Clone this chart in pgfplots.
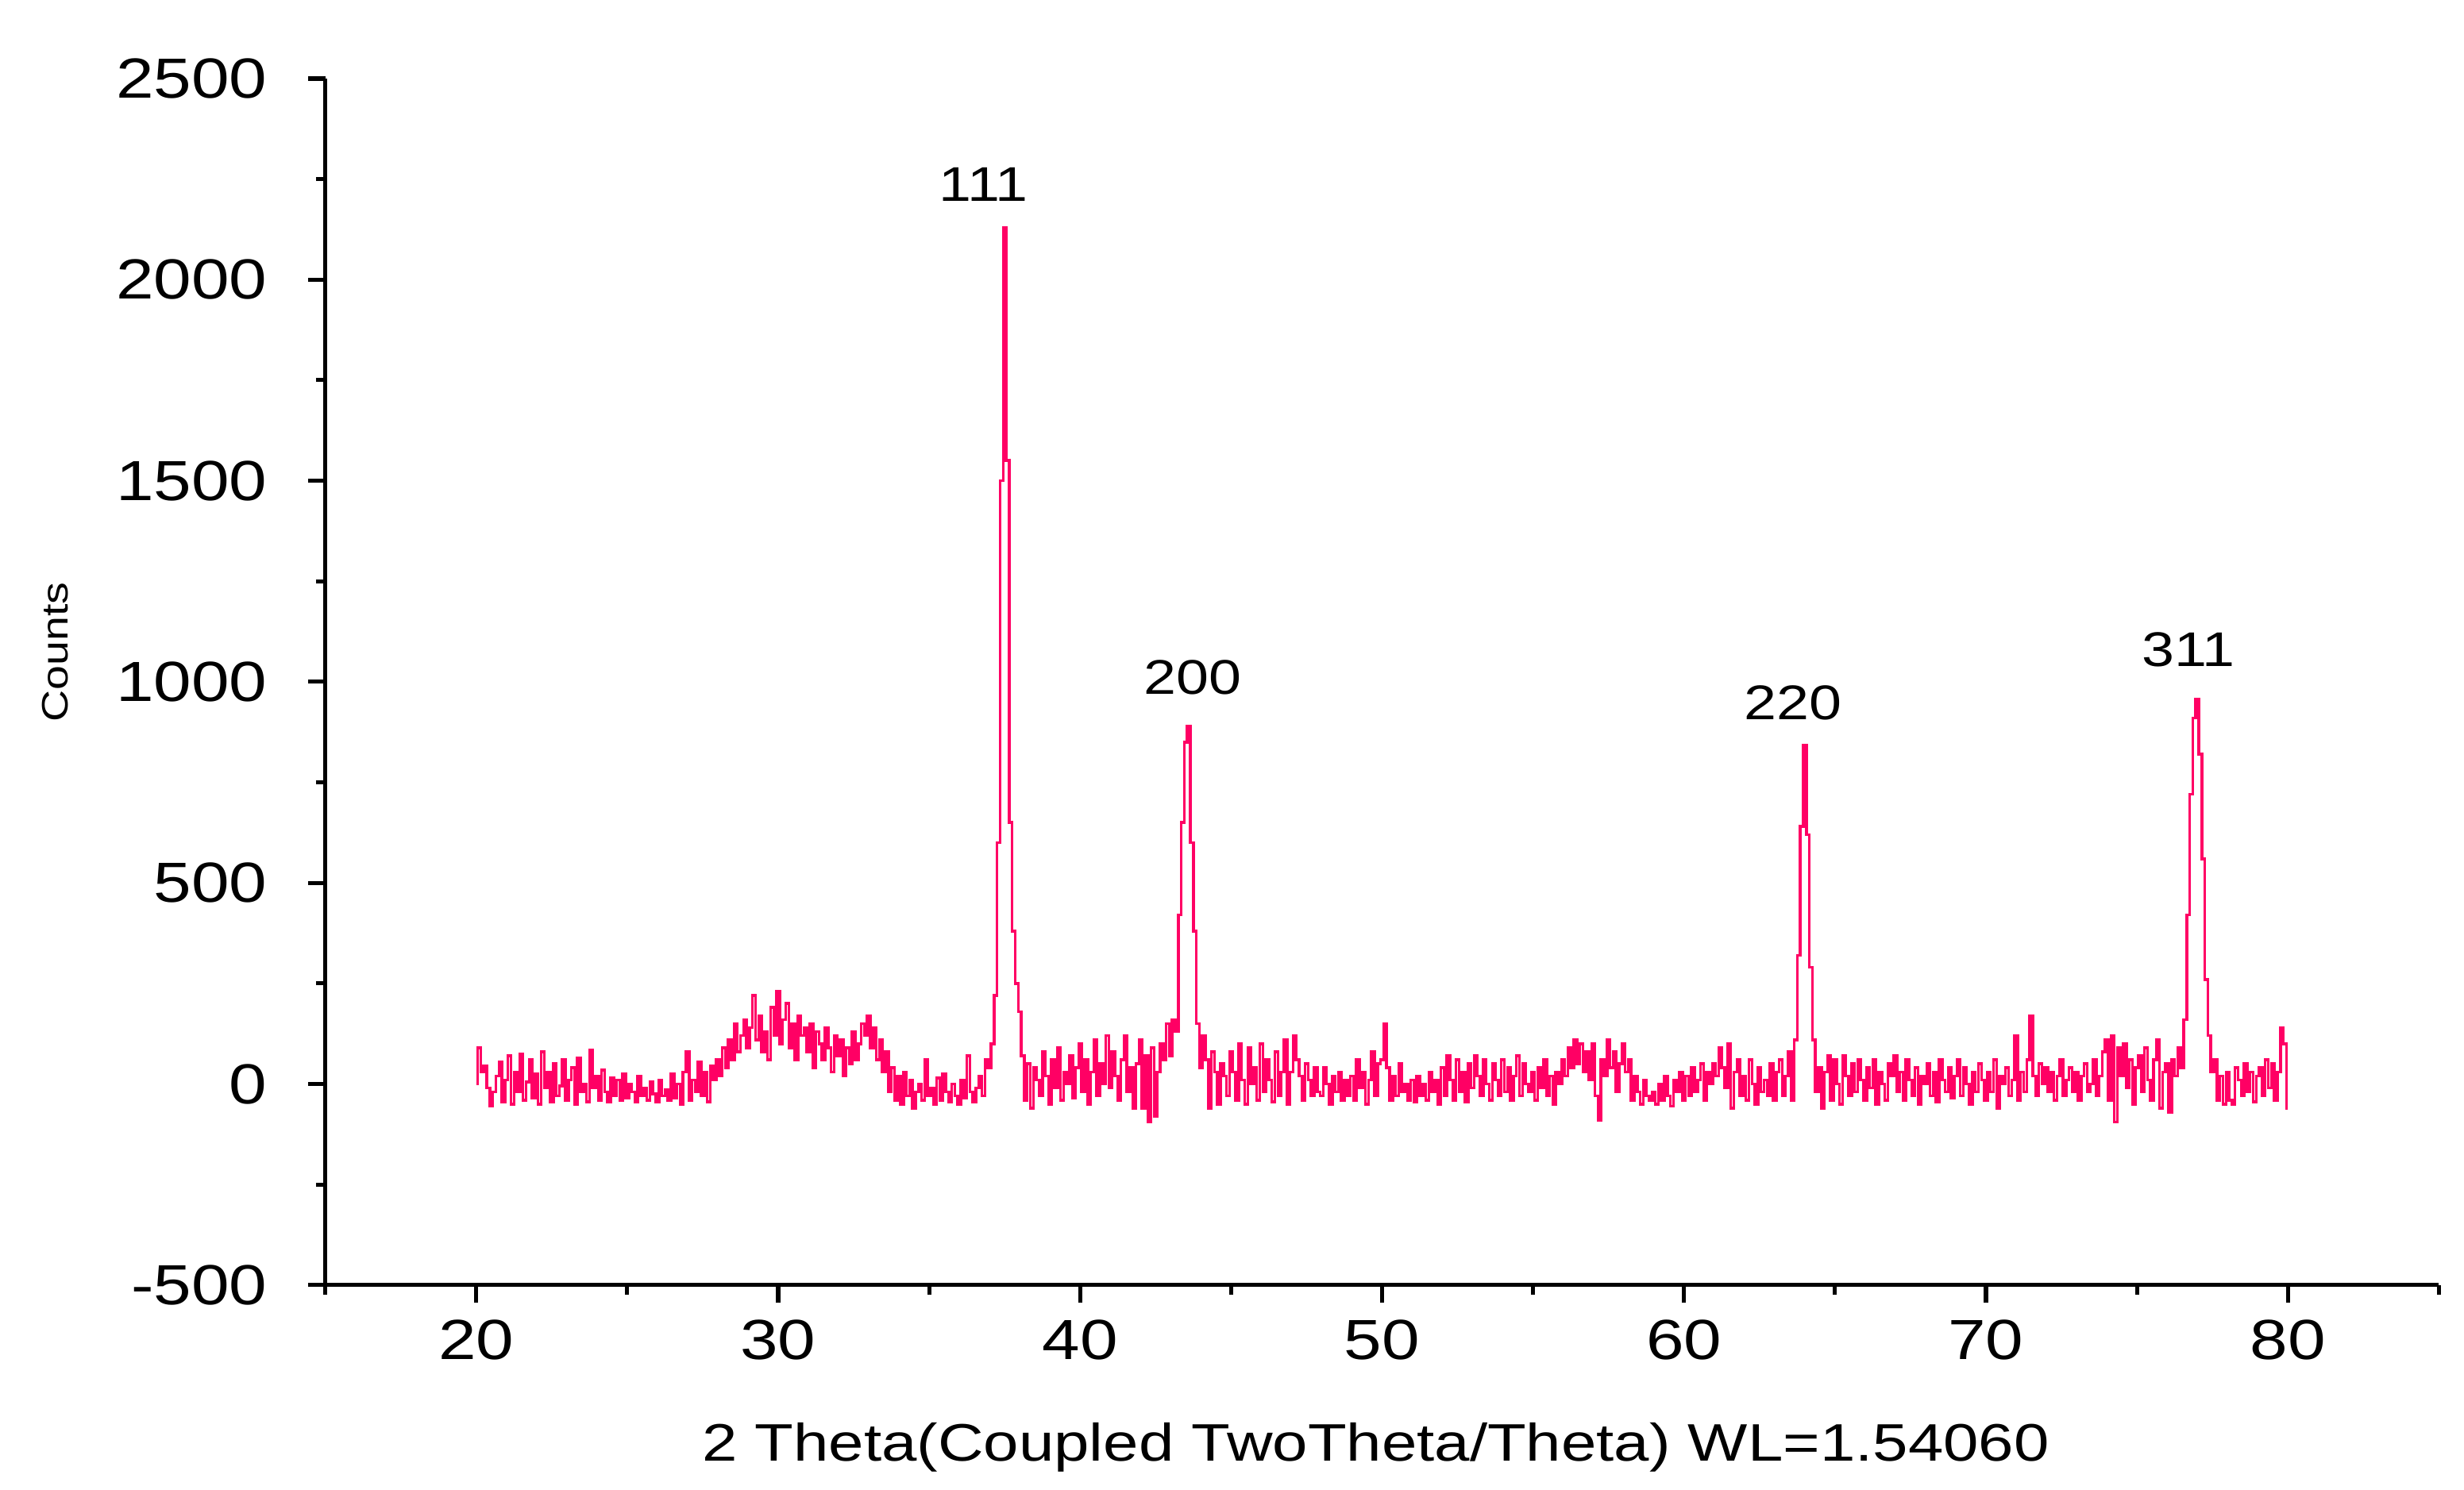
\documentclass[border=0pt]{standalone}
\usepackage{fontspec}
\setmainfont{Liberation Sans}[FakeStretch=1.2]
\usepackage{pgfplots}
\usepackage{pgfplotstable}
\pgfplotsset{compat=1.18}
\definecolor{xrd}{RGB}{255,0,100}

\pgfplotstableread[row sep=\\]{
y \\
0 \\ 90 \\ 30 \\ 45 \\ -10 \\ -55 \\ -20 \\ 20 \\ 55 \\ -45 \\
10 \\ 70 \\ -50 \\ 30 \\ -20 \\ 75 \\ -40 \\ 5 \\ 60 \\ -35 \\
25 \\ -50 \\ 80 \\ -10 \\ 30 \\ -45 \\ 50 \\ -30 \\ -5 \\ 60 \\
-40 \\ 10 \\ 40 \\ -50 \\ 65 \\ -20 \\ 0 \\ -45 \\ 85 \\ -10 \\
20 \\ -40 \\ 35 \\ -20 \\ -45 \\ 15 \\ -30 \\ 10 \\ -40 \\ 25 \\
-35 \\ 0 \\ -20 \\ -45 \\ 20 \\ -30 \\ -10 \\ -40 \\ 5 \\ -25 \\
-45 \\ 10 \\ -30 \\ -15 \\ -40 \\ 25 \\ -35 \\ 0 \\ -50 \\ 30 \\
80 \\ -40 \\ 10 \\ -20 \\ 55 \\ -30 \\ 30 \\ -45 \\ 45 \\ 10 \\
60 \\ 20 \\ 90 \\ 40 \\ 110 \\ 60 \\ 150 \\ 80 \\ 120 \\ 160 \\
90 \\ 140 \\ 220 \\ 110 \\ 170 \\ 80 \\ 130 \\ 60 \\ 190 \\ 120 \\
230 \\ 100 \\ 160 \\ 200 \\ 90 \\ 150 \\ 60 \\ 170 \\ 120 \\ 140 \\
80 \\ 150 \\ 40 \\ 130 \\ 100 \\ 60 \\ 140 \\ 90 \\ 30 \\ 120 \\
70 \\ 110 \\ 20 \\ 90 \\ 50 \\ 130 \\ 60 \\ 100 \\ 150 \\ 120 \\
170 \\ 90 \\ 140 \\ 60 \\ 110 \\ 30 \\ 80 \\ -20 \\ 40 \\ -40 \\
20 \\ -50 \\ 30 \\ -30 \\ 10 \\ -60 \\ -20 \\ 0 \\ -40 \\ 60 \\
-30 \\ -10 \\ -50 \\ 15 \\ -40 \\ 25 \\ -20 \\ -45 \\ 0 \\ -30 \\
-50 \\ 10 \\ -35 \\ 70 \\ -20 \\ -45 \\ -10 \\ 20 \\ -30 \\ 60 \\
40 \\ 100 \\ 220 \\ 600 \\ 1500 \\ 2130 \\ 1550 \\ 650 \\ 380 \\ 250 \\
180 \\ 70 \\ -40 \\ 50 \\ -60 \\ 40 \\ 10 \\ -30 \\ 80 \\ 20 \\
-50 \\ 60 \\ -10 \\ 90 \\ -40 \\ 30 \\ 0 \\ 70 \\ -35 \\ 40 \\
100 \\ -20 \\ 60 \\ -50 \\ 30 \\ 110 \\ -30 \\ 50 \\ 0 \\ 120 \\
-10 \\ 80 \\ 20 \\ -40 \\ 60 \\ 120 \\ -20 \\ 40 \\ -60 \\ 50 \\
110 \\ -60 \\ 70 \\ -95 \\ 90 \\ -80 \\ 30 \\ 100 \\ 60 \\ 150 \\
70 \\ 160 \\ 130 \\ 420 \\ 650 \\ 850 \\ 890 \\ 600 \\ 380 \\ 150 \\
40 \\ 120 \\ 60 \\ -60 \\ 80 \\ 30 \\ -50 \\ 50 \\ 20 \\ -30 \\
80 \\ 30 \\ -40 \\ 100 \\ 10 \\ -50 \\ 90 \\ 0 \\ 40 \\ -40 \\
100 \\ -20 \\ 60 \\ 10 \\ -45 \\ 80 \\ -30 \\ 30 \\ 110 \\ -50 \\
30 \\ 120 \\ 60 \\ 20 \\ -40 \\ 50 \\ 10 \\ -30 \\ 40 \\ -20 \\
-30 \\ 40 \\ 0 \\ -50 \\ 20 \\ -20 \\ 30 \\ -40 \\ 10 \\ -30 \\
20 \\ -40 \\ 60 \\ -10 \\ 30 \\ -50 \\ 10 \\ 80 \\ -30 \\ 50 \\
60 \\ 150 \\ 40 \\ -40 \\ 20 \\ -30 \\ 50 \\ -20 \\ 0 \\ -40 \\
10 \\ -45 \\ 20 \\ -30 \\ 0 \\ -40 \\ 30 \\ -20 \\ 10 \\ -50 \\
40 \\ -30 \\ 70 \\ 10 \\ -40 \\ 60 \\ -20 \\ 30 \\ -45 \\ 50 \\
-10 \\ 70 \\ 20 \\ -30 \\ 60 \\ 0 \\ -40 \\ 50 \\ 10 \\ -30 \\
60 \\ -20 \\ 40 \\ -40 \\ 20 \\ 70 \\ -30 \\ 50 \\ 0 \\ -20 \\
30 \\ -40 \\ 40 \\ -10 \\ 60 \\ -30 \\ 20 \\ -50 \\ 30 \\ 0 \\
60 \\ 20 \\ 90 \\ 40 \\ 110 \\ 50 \\ 100 \\ 30 \\ 80 \\ 10 \\
100 \\ -30 \\ -90 \\ 60 \\ 20 \\ 110 \\ 40 \\ 80 \\ -20 \\ 50 \\
100 \\ 30 \\ 60 \\ -40 \\ 20 \\ -20 \\ -50 \\ 10 \\ -30 \\ -40 \\
-20 \\ -50 \\ 0 \\ -40 \\ 20 \\ -30 \\ -55 \\ 10 \\ -20 \\ 30 \\
-40 \\ 20 \\ -30 \\ 40 \\ -20 \\ 10 \\ 50 \\ -40 \\ 30 \\ 0 \\
50 \\ 20 \\ 90 \\ 40 \\ -10 \\ 100 \\ -60 \\ 30 \\ 60 \\ -30 \\
20 \\ -40 \\ 60 \\ 0 \\ -50 \\ 40 \\ -20 \\ 10 \\ -30 \\ 50 \\
-40 \\ 30 \\ 60 \\ -30 \\ 20 \\ 80 \\ -40 \\ 110 \\ 320 \\ 640 \\
843 \\ 620 \\ 290 \\ 110 \\ -20 \\ 40 \\ -60 \\ 30 \\ 70 \\ -40 \\
60 \\ 0 \\ -50 \\ 70 \\ 20 \\ -30 \\ 50 \\ -20 \\ 60 \\ 10 \\
-40 \\ 40 \\ -10 \\ 60 \\ -50 \\ 30 \\ 0 \\ -40 \\ 50 \\ 20 \\
70 \\ -20 \\ 30 \\ -40 \\ 60 \\ 10 \\ -30 \\ 40 \\ -50 \\ 20 \\
0 \\ 50 \\ -30 \\ 30 \\ -45 \\ 60 \\ 10 \\ -20 \\ 40 \\ -35 \\
20 \\ 60 \\ -30 \\ 40 \\ 0 \\ -50 \\ 30 \\ -20 \\ 50 \\ 10 \\
-40 \\ 30 \\ -20 \\ 60 \\ -60 \\ 20 \\ 0 \\ 40 \\ -30 \\ 10 \\
120 \\ -40 \\ 30 \\ -20 \\ 60 \\ 170 \\ 20 \\ -30 \\ 50 \\ 0 \\
40 \\ -20 \\ 30 \\ -40 \\ 20 \\ 60 \\ -30 \\ 10 \\ 40 \\ -20 \\
30 \\ -40 \\ 20 \\ 50 \\ -20 \\ 0 \\ 60 \\ -30 \\ 20 \\ 80 \\
110 \\ -40 \\ 120 \\ -95 \\ 90 \\ 20 \\ 100 \\ -10 \\ 60 \\ -50 \\
40 \\ 70 \\ -20 \\ 90 \\ 10 \\ -40 \\ 60 \\ 110 \\ -60 \\ 30 \\
50 \\ -70 \\ 60 \\ 20 \\ 90 \\ 40 \\ 160 \\ 420 \\ 720 \\ 910 \\
957 \\ 820 \\ 560 \\ 260 \\ 120 \\ 30 \\ 60 \\ -40 \\ 20 \\ -50 \\
30 \\ -40 \\ -50 \\ 40 \\ 10 \\ -30 \\ 50 \\ -20 \\ 30 \\ -45 \\
20 \\ 40 \\ -30 \\ 60 \\ -10 \\ 50 \\ -40 \\ 30 \\ 140 \\ 100 \\
-60 \\
}\xrddata

\begin{document}
\begin{tikzpicture}
\path[use as bounding box] (0,0) rectangle (784pt,474pt);
\begin{axis}[
  at={(103.5pt,65pt)}, anchor=south west,
  scale only axis, width=672.5pt, height=384pt,
  xmin=15, xmax=85, ymin=-500, ymax=2500,
  axis lines=left, axis line style={line width=1.3pt, -},
  xtick={20,30,...,80}, minor xtick={15,25,...,85},
  ytick={-500,0,...,2500}, minor ytick={-250,250,...,2250},
  tick align=outside, major tick length=5.5pt, minor tick length=3pt,
  every tick/.style={line width=1.3pt, black},
  /pgf/number format/assume math mode=true,
  /pgf/number format/1000 sep={},
  tick label style={font=\fontsize{18}{20}\selectfont},
  xticklabel style={yshift=-2pt},
  yticklabel style={xshift=-9.5pt},
  xlabel={2 Theta(Coupled TwoTheta/Theta) WL=1.54060},
  ylabel={Counts},
  xlabel style={font=\fontsize{16.8}{18}\selectfont, at={(axis description cs:0.497,-0.1458)}, anchor=base},
  ylabel style={font=\fontsize{11.7}{13}\selectfont, at={(axis description cs:-0.1279,0.5247)}, anchor=center},
  clip=false,
]
\addplot[xrd, line width=0.9pt, mark=none, const plot mark mid] table[x expr={20+0.1*\coordindex}, y=y] {\xrddata};
\node[anchor=base, font=\fontsize{15.5}{17}\selectfont] at (axis cs:36.8,2195) {111};
\node[anchor=base, font=\fontsize{15.5}{17}\selectfont] at (axis cs:43.73,969) {200};
\node[anchor=base, font=\fontsize{15.5}{17}\selectfont] at (axis cs:63.6,906) {220};
\node[anchor=base, font=\fontsize{15.5}{17}\selectfont] at (axis cs:76.7,1039) {311};
\end{axis}
\end{tikzpicture}
\end{document}
